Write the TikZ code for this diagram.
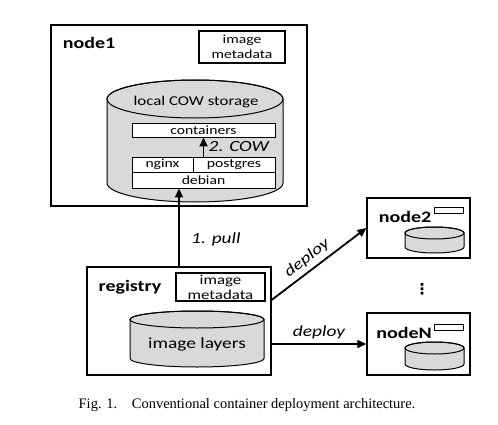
\documentclass[tikz,border=0pt]{standalone}
\usepackage{fontspec}
\setmainfont[FakeStretch=1.25]{Carlito}
\newfontfamily\capfont{Liberation Serif}
\newfontfamily\symfont{DejaVu Sans}
\usetikzlibrary{arrows.meta}
\newcommand{\drum}[5]{\filldraw[fill=gray!30,line width=1pt] (#1-#4,#2-#5) -- (#1-#4,#3+#5) arc[start angle=180,end angle=360,x radius=#4pt,y radius=#5pt] -- (#1+#4,#2-#5) arc[start angle=0,end angle=180,x radius=#4pt,y radius=#5pt] -- cycle;
	\draw[line width=1pt] (#1,#2-#5) ellipse[x radius=#4pt,y radius=#5pt]}

\begin{document}
\begin{tikzpicture}[x=1pt,y=1pt,
		box/.style={draw,line width=1.2pt,inner sep=0pt},
		layer/.style={draw,line width=0.9pt,fill=white,inner sep=0pt,font=\fontsize{12.5}{14}\selectfont},
		meta/.style={draw,line width=1.1pt,inner sep=0pt,align=center,font=\fontsize{12.5}{15}\selectfont},
		tag/.style={draw,line width=1pt,inner sep=0pt,minimum width=29pt,minimum height=6pt},
		title/.style={font=\bfseries\fontsize{16}{18}\selectfont},
		lbl/.style={font=\itshape\fontsize{15.5}{18}\selectfont},
		flow/.style={line width=1.8pt,-{Triangle[length=9pt,width=8pt]}}]
				\useasboundingbox (0,0) rectangle (498,424);
				
				% node1
				\node[box,minimum width=256pt,minimum height=181pt] (n1) at (179,308.5) {};
				\node[title] (n1name) at (89,381) {node1};
				\node[meta,minimum width=86pt,minimum height=32pt] (meta1) at (242,377) {image\\metadata};
				\drum{195}{344}{222}{88}{19};
				\node[font=\fontsize{13.5}{16}\selectfont] (store1) at (196,322) {local COW storage};
				\node[layer,minimum width=143pt,minimum height=14pt] (containers) at (203.5,294) {containers};
				\node[layer,minimum width=61pt,minimum height=15pt] (nginx) at (162.5,259.5) {nginx};
				\node[layer,minimum width=82pt,minimum height=15pt] (postgres) at (234,259.5) {postgres};
				\node[layer,minimum width=143pt,minimum height=16pt] (debian) at (203.5,244) {debian};
				\draw[flow] (containers.south |- postgres.north) -- (containers.south) node[lbl,midway,right=1pt] {2. COW};
				
				% registry
				\node[box,minimum width=184pt,minimum height=108pt] (reg) at (179,103) {};
				\node[title] (regname) at (130,137) {registry};
				\node[meta,minimum width=89pt,minimum height=28pt,font=\fontsize{13.5}{15}\selectfont] (meta2) at (220.5,137) {image\\metadata};
				\drum{197}{113}{57}{67}{8.5};
				\node[font=\fontsize{15.5}{18}\selectfont] (layers) at (197,80) {image layers};
				
				% other nodes
				\node[box,minimum width=103pt,minimum height=60pt] (n2) at (418.5,196) {};
				\node[title] (n2name) at (405,207) {node2};
				\node[tag] (meta3) at (448.5,214) {};
				\drum{434.5}{197}{171}{29.5}{6};
				
				\node[box,minimum width=103pt,minimum height=62pt] (nN) at (418.5,80) {};
				\node[title] (nNname) at (404,91) {nodeN};
				\node[tag] (meta4) at (448.5,97) {};
				\drum{434.5}{82}{54}{29.5}{6};
				
				\node[font=\symfont\bfseries\fontsize{15}{18}\selectfont] (dots) at (422,135) {⋮};
				
				\draw[flow] (reg.north) -- (reg.north |- debian.south) node[lbl,pos=0.35,right=8pt] {1. pull};
				\draw[flow] ([yshift=21pt]reg.east) -- (n2.west) node[lbl,pos=0.45,above=1pt,sloped] {deploy};
				\draw[flow] (reg.east |- nN.west) -- (nN.west) node[lbl,midway,above=1pt] {deploy};
				
				\node[font=\capfont\fontsize{14.5}{16}\selectfont] (caption) at (247,19) {Fig. 1.\hspace{1em}Conventional container deployment architecture.};
\end{tikzpicture}
\end{document}
